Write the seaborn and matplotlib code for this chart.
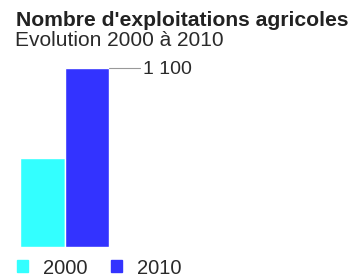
import matplotlib
matplotlib.use("Agg")
import matplotlib.pyplot as plt
import seaborn as sns
import pandas as pd

# data
years = ["2000", "2010"]
exploitations = [547, 1100]
colors = ["#33FFFF", "#3333FF"]

sns.set_style("white")
plt.rcParams["font.family"] = ["Liberation Sans", "DejaVu Sans"]

df = pd.DataFrame({"annee": years, "nb": exploitations})

fig = plt.figure(figsize=(3.56, 2.80), dpi=100)
# axes placed so bars span 20..109 px horizontally and 68..247 px vertically
ax = fig.add_axes([20 / 356, 33 / 280, 89 / 356, 179 / 280])
sns.barplot(data=df, x="annee", y="nb", hue="annee", palette=colors,
            width=1.0, saturation=1, legend=False, ax=ax)
ax.set_xlim(-0.5, 1.5)
ax.set_ylim(0, max(exploitations))
ax.axis("off")

# leader line and value label for the max
top = max(exploitations)
ax.plot([1.5, 2.2], [top, top], color="#999999", lw=0.8, clip_on=False)
ax.text(2.26, top * 0.99, "1 100", fontsize=14, va="center", ha="left", color="#2a2a2a")

fig.text(16 / 356, 1 - 20 / 280, "Nombre d'exploitations agricoles",
         fontsize=15.2, fontweight="bold", va="center", ha="left", color="#222222")
fig.text(15 / 356, 1 - 41 / 280, "Evolution 2000 à 2010",
         fontsize=15, va="center", ha="left", color="#2a2a2a")

handles = [plt.Rectangle((0, 0), 1, 1, color=c) for c in colors]
fig.legend(handles, years, loc="center left", bbox_to_anchor=(17 / 356, 1 - 268 / 280),
           ncol=2, frameon=False, fontsize=14.5, handlelength=0.55, handleheight=0.55,
           columnspacing=1.15, handletextpad=0.75, borderaxespad=0, borderpad=0,
           labelcolor="#2a2a2a")

fig.savefig("out.png", dpi=100)
